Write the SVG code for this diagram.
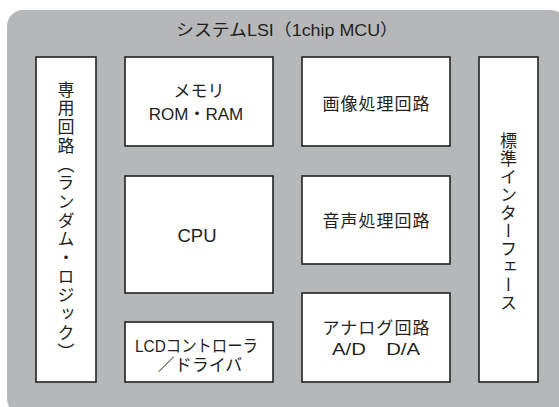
<svg xmlns="http://www.w3.org/2000/svg" width="559" height="407" viewBox="0 0 559 407">
<style>
.box{fill:#ffffff;stroke:#222222;stroke-width:1.6}
.t{font-family:"Liberation Sans","Noto Sans CJK JP",sans-serif;fill:#231f20;text-anchor:middle}
.lbl{font-size:17px}
.v{font-family:"Noto Sans CJK JP",sans-serif;font-size:17px;fill:#231f20;text-anchor:middle;writing-mode:vertical-rl}
</style>
<rect x="7" y="10" width="560" height="405" rx="16" fill="#b6b7b9"/>
<text class="t" x="287" y="35.5" font-size="16.5" textLength="222" lengthAdjust="spacingAndGlyphs">システムLSI（1chip MCU）</text>
<g id="connectors"/>
<g id="senyou">
<rect class="box" x="36" y="57" width="60" height="325"/>
<text class="v" x="66" y="221" style="letter-spacing:1.7px">専用回路（ランダム・ロジック）</text>
</g>
<g id="memory">
<rect class="box" x="125" y="57" width="148" height="89"/>
<text class="t lbl" x="199" y="97">メモリ</text>
<text class="t lbl" x="196" y="119.5">ROM・RAM</text>
</g>
<g id="cpu">
<rect class="box" x="125" y="176" width="148" height="117"/>
<text class="t" x="197" y="241.5" font-size="18.5">CPU</text>
</g>
<g id="lcd">
<rect class="box" x="125" y="322" width="148" height="60"/>
<text class="t" x="196.5" y="351.5" font-size="16.5" textLength="123" lengthAdjust="spacingAndGlyphs">LCDコントローラ</text>
<text class="t lbl" x="200" y="371">／ドライバ</text>
</g>
<g id="gazou">
<rect class="box" x="302" y="57" width="148" height="89"/>
<text class="t lbl" x="376" y="109.5" textLength="107">画像処理回路</text>
</g>
<g id="onsei">
<rect class="box" x="302" y="176" width="148" height="88"/>
<text class="t lbl" x="376" y="226.5" textLength="107">音声処理回路</text>
</g>
<g id="analog">
<rect class="box" x="302" y="293" width="148" height="89"/>
<text class="t lbl" x="376" y="333.5" textLength="107">アナログ回路</text>
<text class="t lbl" x="376" y="355" textLength="88" lengthAdjust="spacingAndGlyphs">A/D　D/A</text>
</g>
<g id="interface">
<rect class="box" x="479" y="57" width="59" height="325"/>
<text class="v" x="508.5" y="222" style="letter-spacing:1px">標準インターフェース</text>
</g>
</svg>
